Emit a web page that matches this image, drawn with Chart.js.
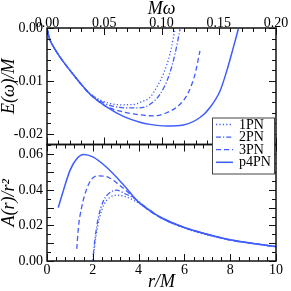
<!DOCTYPE html>
<html>
<head>
    <title>Binding energy and A(r)</title>
    <script src="https://cdn.jsdelivr.net/npm/chart.js"></script>
    <style>
        body { margin: 0; background: #fff; }
        #wrap { width: 291px; height: 291px; }
    </style>
</head>
<body>
<div id="wrap"><canvas id="pnChart" width="291" height="291"></canvas></div>
<script>
    // top panel: E(omega)/M against M*omega
    var omegaP4 = [0, 0.002, 0.005, 0.0114, 0.023, 0.0376, 0.0521, 0.0667, 0.0812, 0.09, 0.1045, 0.119, 0.1336, 0.1424, 0.1511, 0.157, 0.1627, 0.1671];
    var energyP4 = [0, -0.0019, -0.0033, -0.0055, -0.0088, -0.0125, -0.0149, -0.0167, -0.0178, -0.0182, -0.0185, -0.0183, -0.0169, -0.0150, -0.0119, -0.0081, -0.0037, -0.0002];
    var omega1PN = [0, 0.002, 0.005, 0.0114, 0.023, 0.0376, 0.05, 0.0638, 0.0754, 0.084, 0.09, 0.0958, 0.1016, 0.1074, 0.1118];
    var energy1PN = [0, -0.0019, -0.0033, -0.0055, -0.0088, -0.0124, -0.0139, -0.0145, -0.01445, -0.0138, -0.0131, -0.0112, -0.0087, -0.0049, -0.0002];
    var omega2PN = [0, 0.002, 0.005, 0.0114, 0.023, 0.0376, 0.05, 0.0638, 0.0754, 0.084, 0.09, 0.0987, 0.106, 0.1118, 0.1162];
    var energy2PN = [0, -0.0019, -0.0033, -0.0055, -0.0088, -0.0124, -0.0142, -0.0150, -0.0151, -0.0150, -0.0144, -0.0125, -0.0093, -0.0049, -0.0002];
    var omega3PN = [0, 0.002, 0.005, 0.0114, 0.023, 0.0376, 0.05, 0.0638, 0.0812, 0.093, 0.1045, 0.1162, 0.1234, 0.1293, 0.1336];
    var energy3PN = [0, -0.0019, -0.0033, -0.0055, -0.0088, -0.0125, -0.0146, -0.0157, -0.0164, -0.0166, -0.0160, -0.0144, -0.0122, -0.0087, -0.0043];

    // bottom panel: A(r)/r^2 against r/M
    var rP4 = [0.49, 0.71, 1.0, 1.3, 1.6, 2.0, 2.6, 3.3, 4.0, 4.5, 5.0, 6.0, 7.0, 8.0, 9.0, 10.0];
    var aP4 = [0.030, 0.0394, 0.0508, 0.0575, 0.0599, 0.0585, 0.0527, 0.0434, 0.0330, 0.0282, 0.0243, 0.0188, 0.0150, 0.0119, 0.0099, 0.0081];
    var r1PN = [2.0, 2.05, 2.15, 2.3, 2.5, 2.75, 3.05, 3.4, 3.8, 4.3, 5, 6, 7, 8, 9, 10];
    var a1PN = [0.0005, 0.0055, 0.0150, 0.0246, 0.0320, 0.0358, 0.0370, 0.0363, 0.0340, 0.0302, 0.0240, 0.0185, 0.0146, 0.0117, 0.0097, 0.0080];
    var r2PN = [2.02, 2.1, 2.24, 2.46, 2.75, 3.04, 3.41, 3.84, 4.3, 5, 6, 7, 8, 9, 10];
    var a2PN = [0.0034, 0.0129, 0.0243, 0.0337, 0.0385, 0.0398, 0.0378, 0.0350, 0.0305, 0.0241, 0.0187, 0.0149, 0.0118, 0.0098, 0.0080];
    var r3PN = [1.30, 1.37, 1.51, 1.73, 1.95, 2.24, 2.68, 3.11, 3.55, 4.0, 4.5, 5, 6, 7, 8, 9, 10];
    var a3PN = [0.0068, 0.0186, 0.030, 0.0404, 0.046, 0.0479, 0.047, 0.0432, 0.0385, 0.0332, 0.0280, 0.0242, 0.0188, 0.0150, 0.0119, 0.0099, 0.0081];

    var seriesLabels = ['1PN', '2PN', '3PN', 'p4PN'];
    var omegaTicks = [0, 0.05, 0.10, 0.15, 0.20];
    var energyTicks = [-0.02, -0.01, 0];
    var rTicks = [0, 2, 4, 6, 8, 10];
    var aTicks = [0, 0.01, 0.02, 0.03, 0.04, 0.05, 0.06];

    var blue = '#3f5cff';
    var serif = '"Liberation Serif", "DejaVu Serif", serif';
    var dashes = [[1.2, 2.2], [5, 2, 1.2, 2], [5, 3], []];

    function pts(xs, ys) {
        return xs.map(function (x, i) { return { x: x, y: ys[i] }; });
    }

    function line(label, k, data, xId, yId) {
        return {
            label: label,
            data: data,
            xAxisID: xId,
            yAxisID: yId,
            borderColor: blue,
            borderWidth: k === 3 ? 1.5 : 1.3,
            borderDash: dashes[k],
            pointRadius: 0,
            fill: false,
            cubicInterpolationMode: 'monotone'
        };
    }

    function fixTicks(list) {
        return function (scale) {
            scale.ticks = list.map(function (v) { return { value: v }; });
        };
    }

    var tickFont = { family: serif, size: 14 };
    var titleFont = { family: serif, size: 18, style: 'italic', lineHeight: 1 };
    var noGrid = { display: false, drawTicks: false };

    // inward ticks on all four sides of each panel, plus the frames
    var framePlugin = {
        id: 'frame',
        afterDatasetsDraw: function (chart) {
            var ctx = chart.ctx, area = chart.chartArea, s = chart.scales;
            var panels = [
                { x: s.xt, y: s.yt, xStep: 0.01, xMajor: 0.05, yStep: 0.002, yMajor: 0.01 },
                { x: s.xb, y: s.yb, xStep: 0.4, xMajor: 2, yStep: 0.005, yMajor: 0.01 }
            ];
            ctx.save();
            ctx.strokeStyle = '#111';
            ctx.lineWidth = 1;
            panels.forEach(function (p) {
                var top = p.y.top, bottom = p.y.bottom;
                var isMajor = function (v, m) { return Math.abs(v / m - Math.round(v / m)) < 1e-6; };
                var n = Math.round((p.x.max - p.x.min) / p.xStep);
                for (var k = 0; k <= n; k++) {
                    var v = p.x.min + k * p.xStep;
                    var px = Math.round(p.x.getPixelForValue(v)) + 0.5;
                    var len = isMajor(v, p.xMajor) ? 7 : 4;
                    ctx.beginPath();
                    ctx.moveTo(px, bottom); ctx.lineTo(px, bottom - len);
                    ctx.moveTo(px, top); ctx.lineTo(px, top + len);
                    ctx.stroke();
                }
                var lo = Math.ceil(p.y.min / p.yStep - 1e-6), hi = Math.floor(p.y.max / p.yStep + 1e-6);
                for (var j = lo; j <= hi; j++) {
                    var w = j * p.yStep;
                    var py = Math.round(p.y.getPixelForValue(w)) + 0.5;
                    var l2 = isMajor(w, p.yMajor) ? 7 : 4;
                    ctx.beginPath();
                    ctx.moveTo(area.left, py); ctx.lineTo(area.left + l2, py);
                    ctx.moveTo(area.right, py); ctx.lineTo(area.right - l2, py);
                    ctx.stroke();
                }
                ctx.lineWidth = 1.5;
                ctx.strokeRect(area.left, top, area.right - area.left, bottom - top);
                ctx.lineWidth = 1;
            });
            // labels of the top (M omega) axis, set just above the frame
            ctx.fillStyle = '#000';
            ctx.font = '14px ' + serif;
            ctx.textAlign = 'center';
            ctx.textBaseline = 'alphabetic';
            omegaTicks.forEach(function (v) {
                ctx.fillText(v.toFixed(2), s.xt.getPixelForValue(v), area.top - 1.5);
            });
            ctx.restore();
        },
        afterDraw: function (chart) {
            var ctx = chart.ctx;
            var bx = 212, by = 117.5, bw = 62, bh = 56;
            ctx.save();
            ctx.fillStyle = '#fff';
            ctx.fillRect(bx, by, bw, bh);
            ctx.strokeStyle = '#444';
            ctx.lineWidth = 1;
            ctx.strokeRect(bx + 0.5, by + 0.5, bw, bh);
            ctx.font = '14px ' + serif;
            ctx.textBaseline = 'middle';
            for (var i = 0; i < 4; i++) {
                var ds = chart.data.datasets[i];
                var y = by + 7 + i * 12.6;
                ctx.strokeStyle = ds.borderColor;
                ctx.lineWidth = ds.borderWidth;
                ctx.setLineDash(ds.borderDash);
                ctx.beginPath();
                ctx.moveTo(bx + 4, y);
                ctx.lineTo(bx + 21, y);
                ctx.stroke();
                ctx.setLineDash([]);
                ctx.fillStyle = '#000';
                ctx.fillText(ds.label, bx + 27, y + 0.5);
            }
            ctx.restore();
        }
    };

    var ctx = document.getElementById('pnChart').getContext('2d');
    var chart = new Chart(ctx, {
        type: 'line',
        data: {
            datasets: [
                line(seriesLabels[0], 0, pts(omega1PN, energy1PN), 'xt', 'yt'),
                line(seriesLabels[1], 1, pts(omega2PN, energy2PN), 'xt', 'yt'),
                line(seriesLabels[2], 2, pts(omega3PN, energy3PN), 'xt', 'yt'),
                line(seriesLabels[3], 3, pts(omegaP4, energyP4), 'xt', 'yt'),
                line(seriesLabels[0], 0, pts(r1PN, a1PN), 'xb', 'yb'),
                line(seriesLabels[1], 1, pts(r2PN, a2PN), 'xb', 'yb'),
                line(seriesLabels[2], 2, pts(r3PN, a3PN), 'xb', 'yb'),
                line(seriesLabels[3], 3, pts(rP4, aP4), 'xb', 'yb')
            ]
        },
        options: {
            responsive: false,
            animation: false,
            layout: { padding: { left: 0, right: 15, top: 0, bottom: 0 } },
            plugins: { legend: { display: false }, tooltip: { enabled: false } },
            scales: {
                xt: {
                    type: 'linear', position: 'top', min: 0, max: 0.2,
                    grid: noGrid, border: { display: false },
                    afterBuildTicks: fixTicks(omegaTicks),
                    afterFit: function (s) { s.height = 28; },
                    ticks: { display: false },
                    title: { display: true, text: 'Mω', font: titleFont, color: '#000', padding: 0 }
                },
                xb: {
                    type: 'linear', position: 'bottom', min: 0, max: 10,
                    grid: noGrid, border: { display: false },
                    afterBuildTicks: fixTicks(rTicks),
                    afterFit: function (s) { s.height = 30; },
                    ticks: { font: tickFont, color: '#000', padding: 1, maxRotation: 0 },
                    title: { display: true, text: 'r/M', font: titleFont, color: '#000', padding: 0 }
                },
                yb: {
                    type: 'linear', position: 'left', stack: 'panels', stackWeight: 1,
                    min: 0, max: 0.0655,
                    grid: noGrid, border: { display: false },
                    afterBuildTicks: fixTicks(aTicks),
                    afterFit: function (s) { s.width = 47; },
                    ticks: { font: tickFont, color: '#000', padding: 4,
                        callback: function (v) { return v.toFixed(2); } },
                    title: { display: true, text: 'A(r)/r²', font: titleFont, color: '#000', padding: 0 }
                },
                yt: {
                    type: 'linear', position: 'left', stack: 'panels', stackWeight: 1,
                    min: -0.022, max: 0,
                    grid: noGrid, border: { display: false },
                    afterBuildTicks: fixTicks(energyTicks),
                    afterFit: function (s) { s.width = 47; },
                    ticks: { font: tickFont, color: '#000', padding: 4,
                        callback: function (v) { return v.toFixed(2); } },
                    title: { display: true, text: 'E(ω)/M', font: titleFont, color: '#000', padding: 0 }
                }
            }
        },
        plugins: [framePlugin]
    });
</script>
</body>
</html>
